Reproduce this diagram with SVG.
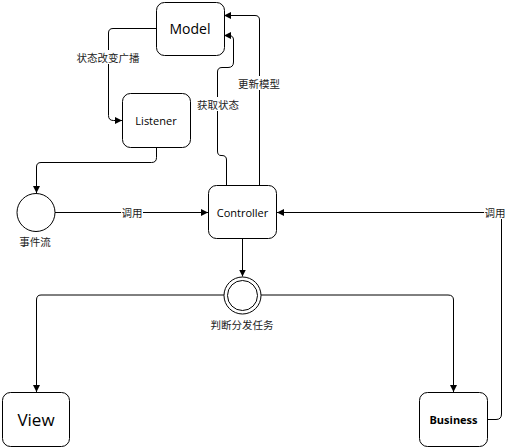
<svg xmlns="http://www.w3.org/2000/svg" width="513" height="448" viewBox="0 0 513 448">
  <defs>
    <marker id="arrow" viewBox="0 0 10 10" refX="10" refY="5" markerWidth="7" markerHeight="7" markerUnits="userSpaceOnUse" orient="auto">
      <path d="M0,0 L10,5 L0,10 Z" fill="#000"/>
    </marker>
    <style>
      .node { fill: #fff; stroke: #000; stroke-width: 1; }
      .edge { fill: none; stroke: #000; stroke-width: 1; marker-end: url(#arrow); }
      .lbl { font-family: "Open Sans", "Liberation Sans", sans-serif; fill: #000; text-anchor: middle; dominant-baseline: central; }
      .cjk { font-family: "Noto Sans CJK SC", "Noto Sans", sans-serif; font-size: 10.5px; fill: #222; text-anchor: middle; dominant-baseline: central; }
      .bg { fill: #fff; }
    </style>
  </defs>
  <rect width="513" height="448" fill="#fff"/>

  <g id="connectors">
    <!-- Model -> Listener -->
    <path class="edge" d="M156.5,28.5 H113 Q108.5,28.5 108.5,33 V115.5 Q108.5,120.5 113.5,120.5 H122"/>
    <!-- Listener -> event stream -->
    <path class="edge" d="M156.5,148 V157.5 Q156.5,162.5 151.5,162.5 H41 Q36.5,162.5 36.5,167 V193"/>
    <!-- event stream -> Controller -->
    <path class="edge" d="M55,212.5 H208"/>
    <!-- Controller -> Model (fetch state) -->
    <path class="edge" d="M226.5,185 V160 Q226.5,155.5 222,155.5 H221 Q217.5,155.5 217.5,151 V72 Q217.5,67.5 222,67.5 H228 Q233.5,67.5 233.5,62 V40 Q233.5,35.5 229,35.5 H224"/>
    <!-- Controller -> Model (update model) -->
    <path class="edge" d="M259.5,185 V20 Q259.5,15.5 255,15.5 H224"/>
    <!-- Controller -> dispatch -->
    <path class="edge" d="M242.5,239 V276.5"/>
    <!-- dispatch -> View -->
    <path class="edge" d="M224,295 H41 Q36.5,295 36.5,300 V392"/>
    <!-- dispatch -> Business -->
    <path class="edge" d="M261,295 H448 Q453.5,295 453.5,300 V392"/>
    <!-- Business -> Controller -->
    <path class="edge" d="M488,419.5 H496 Q501.5,419.5 501.5,414 V217 Q501.5,212.5 497,212.5 H277"/>

    <!-- connector labels -->
    <rect class="bg" x="76" y="50" width="64" height="14"/>
    <text class="cjk" x="108" y="57">状态改变广播</text>
    <rect class="bg" x="197" y="97" width="42" height="14"/>
    <text class="cjk" x="218" y="104">获取状态</text>
    <rect class="bg" x="237" y="76" width="44" height="14"/>
    <text class="cjk" x="259" y="83">更新模型</text>
    <rect class="bg" x="121" y="205" width="22" height="14"/>
    <text class="cjk" x="132" y="212">调用</text>
    <rect class="bg" x="484" y="205" width="22" height="14"/>
    <text class="cjk" x="495" y="212">调用</text>
  </g>

  <g id="model">
    <rect class="node" x="156.5" y="2.5" width="68" height="53" rx="8"/>
    <text class="lbl" x="190" y="28" font-size="14">Model</text>
  </g>

  <g id="listener">
    <rect class="node" x="122.5" y="93.5" width="68" height="54" rx="8"/>
    <text class="lbl" x="156" y="120" font-size="11">Listener</text>
  </g>

  <g id="event-stream">
    <circle class="node" cx="36" cy="212.5" r="19"/>
    <text class="cjk" x="35" y="241">事件流</text>
  </g>

  <g id="controller">
    <rect class="node" x="208.5" y="185.5" width="68" height="53" rx="8"/>
    <text class="lbl" x="242.5" y="212" font-size="11">Controller</text>
  </g>

  <g id="dispatch">
    <circle class="node" cx="242.5" cy="295.5" r="18.5"/>
    <circle class="node" cx="242.5" cy="295.5" r="15"/>
    <text class="cjk" x="242" y="324">判断分发任务</text>
  </g>

  <g id="view">
    <rect class="node" x="2.5" y="392.5" width="67" height="54" rx="8"/>
    <text class="lbl" x="36" y="419" font-size="17">View</text>
  </g>

  <g id="business">
    <rect class="node" x="419.5" y="392.5" width="68" height="54" rx="8"/>
    <text class="lbl" x="453.5" y="419" font-size="11" font-weight="bold">Business</text>
  </g>
</svg>
